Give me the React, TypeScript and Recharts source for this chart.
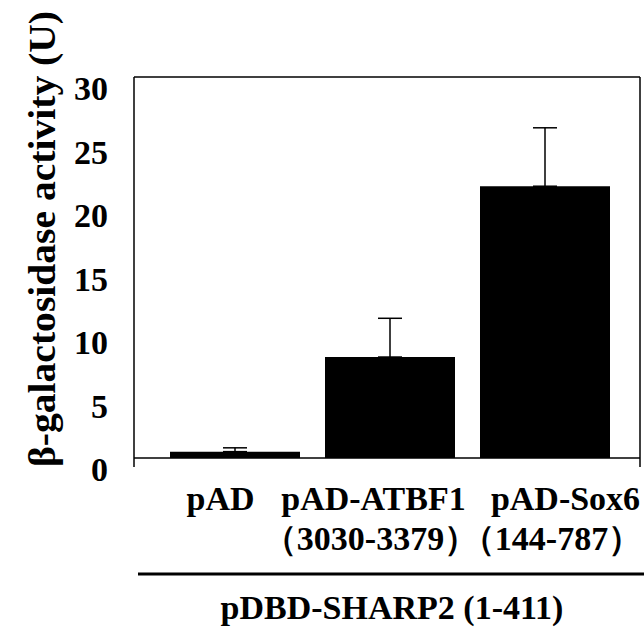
import React from "react";
import { BarChart, Bar, XAxis, YAxis, ErrorBar, CartesianGrid } from "recharts";

const categories = ["pAD", "pAD-ATBF1", "pAD-Sox6"];
const subLabels = ["", "（3030-3379）", "（144-787）"];
const activity = [0.5, 7.95, 21.4];
const errors = [0.3, 3.05, 4.6];
const yTicks = [0, 5, 10, 15, 20, 25, 30];
const frameLines = [0, 30];

const data = categories.map((name, i) => ({
  name,
  value: activity[i],
  err: [0, errors[i]],
}));

const FONT = "'Liberation Serif', 'Times New Roman', serif";
// label centres sit a little off the bar centres in the original
const lineShift = [-14, -16, 21];
const subShift = [0, -19, 7];

function CategoryTick(props: any) {
  const { x, y, payload, index } = props;
  const i = index ?? categories.indexOf(payload.value);
  return (
    <g>
      <text
        x={x + lineShift[i]}
        y={y + 35}
        textAnchor="middle"
        fontFamily={FONT}
        fontWeight="bold"
        fontSize={34}
        fill="#000"
      >
        {payload.value}
      </text>
      {subLabels[i] ? (
        <text
          x={x + subShift[i]}
          y={y + 75}
          textAnchor="middle"
          fontFamily={FONT}
          fontWeight="bold"
          fontSize={34}
          fill="#000"
        >
          {subLabels[i]}
        </text>
      ) : null}
    </g>
  );
}

function GroupLabel(props: any) {
  const { x, y, width } = props.viewBox;
  return (
    <g>
      <line x1={x + 4} x2={x + width + 4} y1={y + 107} y2={y + 107} stroke="#000" strokeWidth={3} />
      <text
        x={x + width / 2 + 5}
        y={y + 152}
        textAnchor="middle"
        fontFamily={FONT}
        fontWeight="bold"
        fontSize={34}
        fill="#000"
      >
        pDBD-SHARP2 (1-411)
      </text>
    </g>
  );
}

function YTitle() {
  return (
    <text
      x={0}
      y={0}
      transform="translate(55, 239) rotate(-90)"
      textAnchor="middle"
      fontFamily={FONT}
      fontWeight="bold"
      fontSize={37}
      textLength={456}
      lengthAdjust="spacingAndGlyphs"
      fill="#000"
    >
      β-galactosidase activity (U)
    </text>
  );
}

export default function App() {
  return (
    <div style={{ position: "absolute", left: 0, top: 0, background: "#fff" }}>
      <BarChart
        width={644}
        height={629}
        data={data}
        margin={{ top: 77, right: 3, bottom: 0, left: 0 }}
        barSize={130}
      >
        <CartesianGrid
          yAxisId="left"
          vertical={false}
          stroke="#000"
          strokeWidth={1.5}
          horizontalValues={frameLines}
        />
        <XAxis
          dataKey="name"
          height={162}
          axisLine={false}
          tickLine={false}
          padding={{ left: 23, right: 18 }}
          tick={<CategoryTick />}
          interval={0}
          label={<GroupLabel />}
        />
        <YAxis
          yAxisId="left"
          width={134}
          domain={[-0.71, 30]}
          ticks={yTicks}
          allowDataOverflow
          axisLine={{ stroke: "#000", strokeWidth: 1.5 }}
          tickLine={false}
          tick={{ fontFamily: FONT, fontWeight: "bold", fontSize: 34, fill: "#000", dy: 11 }}
          tickMargin={20}
          label={<YTitle />}
        />
        <YAxis
          yAxisId="right"
          orientation="right"
          width={1}
          domain={[-0.71, 30]}
          tick={false}
          tickLine={false}
          axisLine={{ stroke: "#000", strokeWidth: 1.5 }}
        />
        <Bar yAxisId="left" dataKey="value" fill="#000" isAnimationActive={false}>
          <ErrorBar dataKey="err" width={12} stroke="#000" strokeWidth={1.5} direction="y" />
        </Bar>
      </BarChart>
    </div>
  );
}
